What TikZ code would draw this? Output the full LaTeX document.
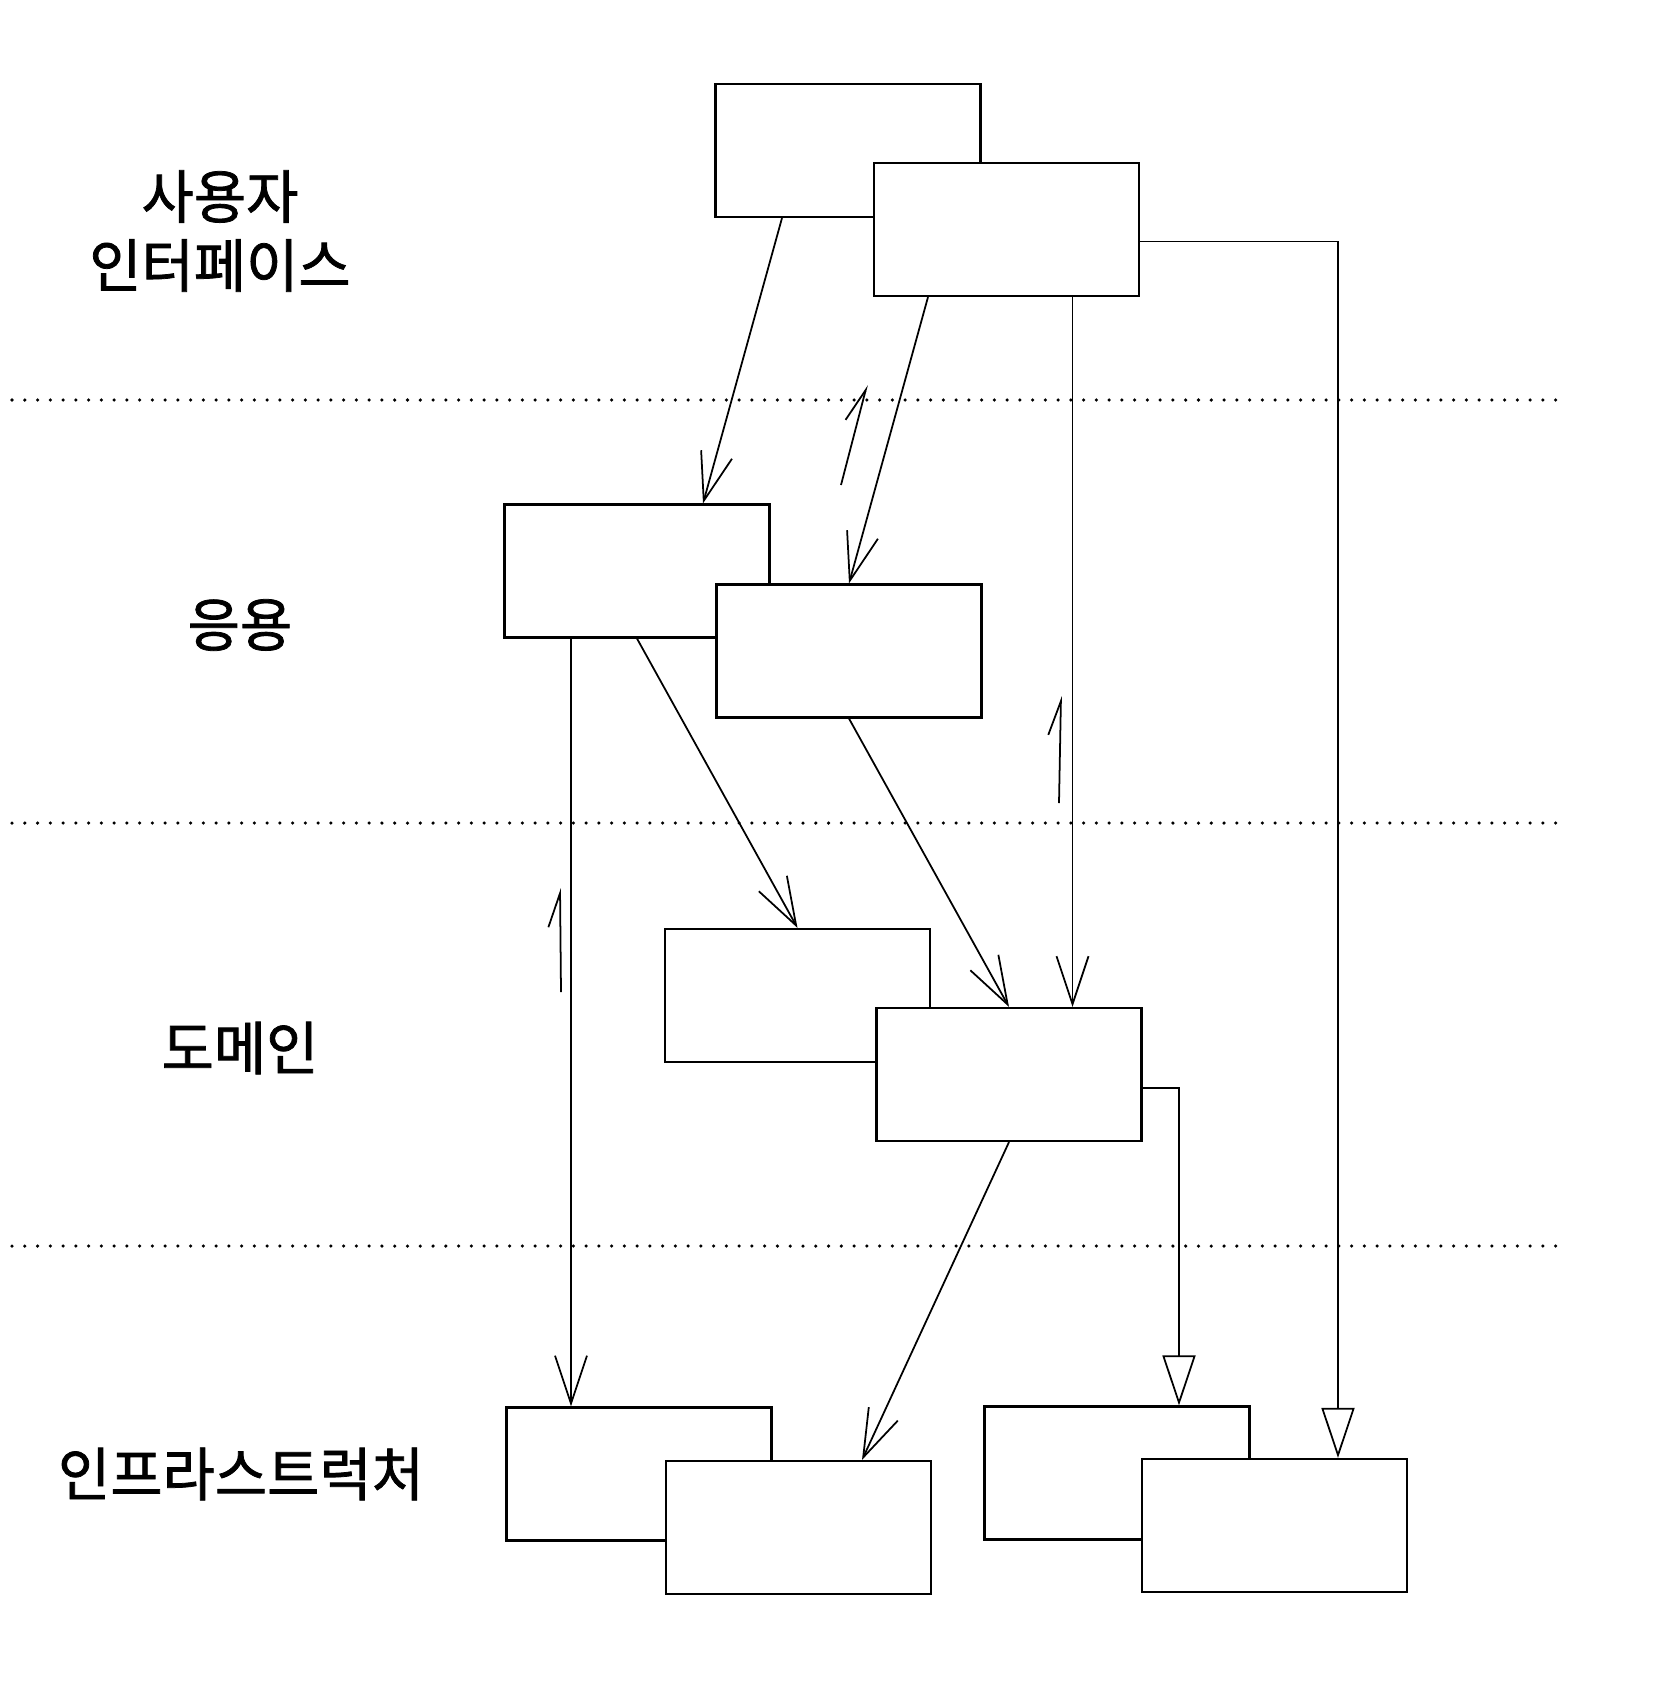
\documentclass[tikz,border=0pt]{standalone}
\usepackage{fontspec}
\newfontfamily\krfont{Noto Sans CJK KR}[FakeStretch=0.98, FakeBold=1.3]
\usetikzlibrary{arrows.meta}

\begin{document}
\begin{tikzpicture}[x=0.1mm, y=0.1mm,
	box/.style={draw=black, line width=0.6pt, fill=white, inner sep=0pt, minimum width=26.5mm, minimum height=13.3mm},
	layer/.style={font=\krfont\fontsize{16.5pt}{19.6pt}\selectfont, align=center, inner sep=0pt},
	uses/.style={black, line width=0.5pt, -{Straight Barb[length=4.8mm, width=3.2mm]}},
	impl/.style={black, line width=0.5pt, -{Triangle[open, length=5mm, width=3.3mm]}},
	flow/.style={black, line width=0.5pt, -{Straight Barb[left, length=3.4mm, width=2.4mm]}},
	sep/.style={black, line width=1pt, line cap=round, dash pattern=on 0pt off 3.63pt}]
			\useasboundingbox (0,0) rectangle (1656,-1690);
			% layer names
			\node [layer] (lblui) at (220,-231) {사용자\\인터페이스};
			\node [layer] (lblapp) at (240,-625) {응용};
			\node [layer] (lbldom) at (240,-1048) {도메인};
			\node [layer] (lblinf) at (241,-1474) {인프라스트럭처};
			% layer borders
			\draw [sep] (12,-400) -- (1562,-400);
			\draw [sep] (12,-823) -- (1562,-823);
			\draw [sep] (12,-1246) -- (1562,-1246);
			% boxes
			\node [box] (ui1) at (848,-150.5) {};
			\node [box] (ui2) at (1006.5,-229.5) {};
			\node [box] (app1) at (637,-571) {};
			\node [box] (app2) at (849,-651) {};
			\node [box] (dom1) at (797.5,-995.5) {};
			\node [box] (dom2) at (1009,-1074.5) {};
			\node [box] (inf1) at (639,-1474) {};
			\node [box] (inf2) at (798.5,-1527.5) {};
			\node [box] (inf3) at (1117,-1473) {};
			\node [box] (inf4) at (1274.5,-1525.5) {};
			% dependencies
			\draw [uses] ([xshift=-6.6mm]ui1.south) -- ([xshift=6.6mm]app1.north);
			\draw [uses] ([xshift=-7.85mm]ui2.south) -- (app2.north);
			\draw [uses] ([xshift=6.6mm]ui2.south) -- ([xshift=6.6mm]ui2.south |- dom2.north);
			\draw [impl] ([yshift=-1.2mm]ui2.east) -| ([xshift=6.35mm]inf4.north);
			\draw [uses] ([xshift=-6.6mm]app1.south) -- ([xshift=-6.6mm]app1.south |- inf1.north);
			\draw [uses] (app1.south) -- (dom1.north);
			\draw [uses] (app2.south) -- (dom2.north);
			\draw [impl] ([yshift=-1.35mm]dom2.east) -| ([xshift=6.2mm]inf3.north);
			\draw [uses] (dom2.south) -- ([xshift=6.35mm]inf2.north);
			% call direction marks
			\draw [flow] (841,-485) -- (867,-385);
			\draw [flow] (1059,-803) -- (1061,-696);
			\draw [flow] (561,-992) -- (560,-888);
		\end{tikzpicture}
\end{document}
